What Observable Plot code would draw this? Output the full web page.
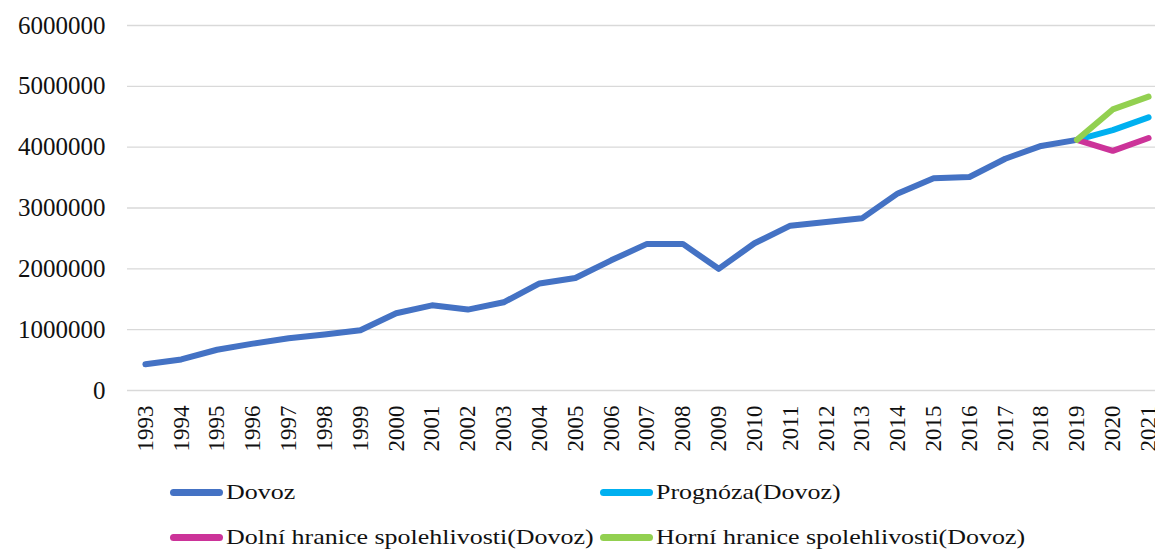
<!DOCTYPE html>
<html>
<head>
<meta charset="utf-8">
<script src="https://cdn.jsdelivr.net/npm/d3@7"></script>
<script src="https://cdn.jsdelivr.net/npm/@observablehq/plot@0.6"></script>
<style>
  html, body { margin: 0; padding: 0; background: #fff; overflow: hidden; }
  #wrap { position: relative; width: 1155px; height: 551px; }
  #legend { position: absolute; left: 0; top: 470px; width: 1155px; font-family: "Liberation Serif", "Times New Roman", serif; font-size: 22px; color: #111; }
  .item { position: absolute; display: flex; align-items: center; white-space: nowrap; }
  .sw { width: 53px; height: 7px; border-radius: 4px; margin-right: 3px; flex: none; }
  .tx { display: inline-block; transform: scaleX(1.18); transform-origin: left center; }
</style>
</head>
<body>
<div id="wrap">
  <div id="chart"></div>
  <div id="legend"></div>
</div>
<script>
const years = [1993,1994,1995,1996,1997,1998,1999,2000,2001,2002,2003,2004,2005,2006,2007,2008,2009,2010,2011,2012,2013,2014,2015,2016,2017,2018,2019,2020,2021];
const dovoz = [430000,510000,670000,770000,860000,920000,990000,1270000,1400000,1330000,1450000,1760000,1850000,2140000,2410000,2410000,2000000,2420000,2710000,2770000,2830000,3240000,3490000,3510000,3810000,4020000,4120000];
const forecastYears = [2019, 2020, 2021];
const prognoza = [4120000, 4280000, 4490000];
const dolni = [4120000, 3940000, 4150000];
const horni = [4120000, 4620000, 4830000];
const yTicks = [0,1000000,2000000,3000000,4000000,5000000,6000000];

const seriesNames = ["Dovoz", "Prognóza(Dovoz)", "Dolní hranice spolehlivosti(Dovoz)", "Horní hranice spolehlivosti(Dovoz)"];
const seriesColors = ["#4472C4", "#00B0F0", "#CC3399", "#92D050"];

const histData = years.slice(0, dovoz.length).map((y, i) => ({year: y, value: dovoz[i]}));
const fc = (arr) => forecastYears.map((y, i) => ({year: y, value: arr[i]}));

const chart = Plot.plot({
  width: 1155,
  height: 470,
  marginTop: 25,
  marginBottom: 80,
  marginLeft: 127,
  marginRight: 0,
  style: {fontFamily: "Liberation Serif, Times New Roman, serif", color: "#111", background: "transparent"},
  x: {domain: [1992.5, 2021.5], range: [127, 1166]},
  y: {domain: [0, 6000000]},
  marks: [
    Plot.gridY(yTicks, {stroke: "#d9d9d9", strokeOpacity: 1, strokeWidth: 1.3}),
    Plot.axisY(yTicks, {tickSize: 0, tickPadding: 22, fontSize: 25, tickFormat: d => String(d), label: null}),
    Plot.axisX(years, {tickSize: 0, tickPadding: 15, tickRotate: -90, fontSize: 23, tickFormat: d => String(d), label: null}),
    Plot.line(histData, {x: "year", y: "value", stroke: seriesColors[0], strokeWidth: 6, strokeLinejoin: "round", strokeLinecap: "round"}),
    Plot.line(fc(prognoza), {x: "year", y: "value", stroke: seriesColors[1], strokeWidth: 6, strokeLinejoin: "round", strokeLinecap: "round"}),
    Plot.line(fc(dolni), {x: "year", y: "value", stroke: seriesColors[2], strokeWidth: 6, strokeLinejoin: "round", strokeLinecap: "round"}),
    Plot.line(fc(horni), {x: "year", y: "value", stroke: seriesColors[3], strokeWidth: 6, strokeLinejoin: "round", strokeLinecap: "round"})
  ]
});
document.getElementById("chart").appendChild(chart);

const legendPos = [[170, 23], [600, 23], [170, 68], [600, 68]];
const legend = document.getElementById("legend");
seriesNames.forEach((name, i) => {
  const it = document.createElement("div");
  it.className = "item";
  it.style.left = legendPos[i][0] + "px";
  it.style.top = (legendPos[i][1] - 14) + "px";
  const sw = document.createElement("span");
  sw.className = "sw";
  sw.style.background = seriesColors[i];
  const tx = document.createElement("span");
  tx.className = "tx";
  tx.textContent = name;
  it.appendChild(sw);
  it.appendChild(tx);
  legend.appendChild(it);
});
</script>
</body>
</html>
